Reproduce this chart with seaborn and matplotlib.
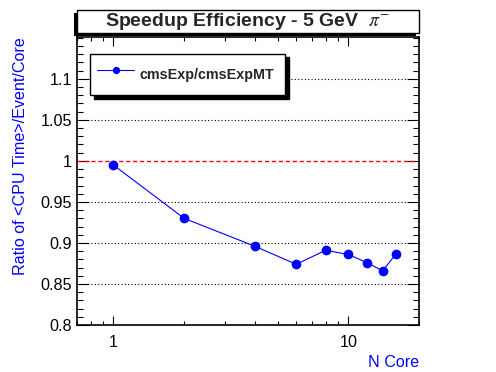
import pandas as pd
import seaborn as sns
import matplotlib.pyplot as plt
from matplotlib.patches import Rectangle
from matplotlib.ticker import LogLocator, NullFormatter, MultipleLocator, FixedLocator

# values
n_core = [1, 2, 4, 6, 8, 10, 12, 14, 16]
ratio = [0.995, 0.930, 0.896, 0.874, 0.891, 0.886, 0.876, 0.866, 0.887]
series_label = "cmsExp/cmsExpMT"
grid_levels = [0.85, 0.9, 0.95, 1.05, 1.1]
x_ticks = [1, 10]
x_ticklabels = ["1", "10"]
y_ticks = [0.8, 0.85, 0.9, 0.95, 1.0, 1.05, 1.1]
y_ticklabels = ["0.8", "0.85", "0.9", "0.95", "1", "1.05", "1.1"]

df = pd.DataFrame({"n_core": n_core, "ratio": ratio})

sns.set_style("ticks")
plt.rcParams["font.family"] = ["Liberation Sans", "DejaVu Sans"]
plt.rcParams["mathtext.fontset"] = "stix"

W, H = 496, 372
fig = plt.figure(figsize=(W / 100, H / 100), dpi=100)
ax = fig.add_axes([77 / W, 47 / H, 342 / W, 288 / H])
ax.set_xscale("log")

sns.lineplot(data=df, x="n_core", y="ratio", color="#0000ff", marker="o",
             markersize=7, markeredgewidth=0, linewidth=0.8,
             label=series_label, ax=ax, zorder=5)

# reference line and dotted grid
ax.axhline(1.0, color="red", linestyle=(0, (3, 2)), linewidth=1.0, zorder=2)
ax.hlines(grid_levels, 0.8, 18, colors="black", linestyles=(0, (1, 2)),
          linewidth=0.8, zorder=1)

ax.set_xlim(0.7, 20)
ax.set_ylim(0.8, 1.151)
ax.set_xticks(x_ticks, x_ticklabels)
ax.xaxis.set_minor_locator(LogLocator(subs=range(2, 10)))
ax.xaxis.set_minor_formatter(NullFormatter())
ax.set_yticks(y_ticks, y_ticklabels)
ax.yaxis.set_minor_locator(MultipleLocator(0.01))

ax.tick_params(which="both", direction="in", top=True, right=True,
               width=0.8, labelsize=11.6, colors="black")
ax.tick_params(axis="y", which="major", length=8.6, pad=3.6)
ax.tick_params(axis="y", which="minor", length=4.3)
ax.tick_params(axis="x", which="major", length=6.5, pad=7)
ax.tick_params(axis="x", which="minor", length=3.2)
for s in ax.spines.values():
    s.set_linewidth(1.2)
    s.set_color("black")

ax.set_xlabel("N Core", color="#0000ff", fontsize=11.6, loc="right")
ax.xaxis.set_label_coords(1.0, -0.105)
ax.set_ylabel("Ratio of <CPU Time>/Event/Core", color="#0000ff",
              fontsize=11.6, loc="top")
ax.yaxis.set_label_coords(-0.142, 1.0)

leg = ax.legend(loc="upper left", bbox_to_anchor=(0.038, 0.941, 0.570, 0.0),
                mode="expand", borderaxespad=0, borderpad=0.5,
                handlelength=2.55, handleheight=2.5, handletextpad=0.4,
                markerscale=0.75, fancybox=False, edgecolor="black",
                framealpha=1,
                shadow={"ox": 3, "oy": -2.5, "color": "black", "alpha": 1},
                prop={"weight": "bold", "size": 10.4})
leg.get_frame().set_linewidth(1.0)

# title box with shadow
px = lambda x, y: (x / W, 1 - y / H)
fig.add_artist(Rectangle(px(74, 36), 342 / W, 23 / H, transform=fig.transFigure,
                         facecolor="black", edgecolor="none"))
fig.add_artist(Rectangle(px(77, 33), 342 / W, 23 / H, transform=fig.transFigure,
                         facecolor="white", edgecolor="black", linewidth=1.0))
fig.text(247 / W, 1 - 21.5 / H, r"Speedup Efficiency - 5 GeV  $\pi^{-}$",
         ha="center", va="center", fontsize=14, fontweight="bold")

fig.savefig("out.png", dpi=100)
